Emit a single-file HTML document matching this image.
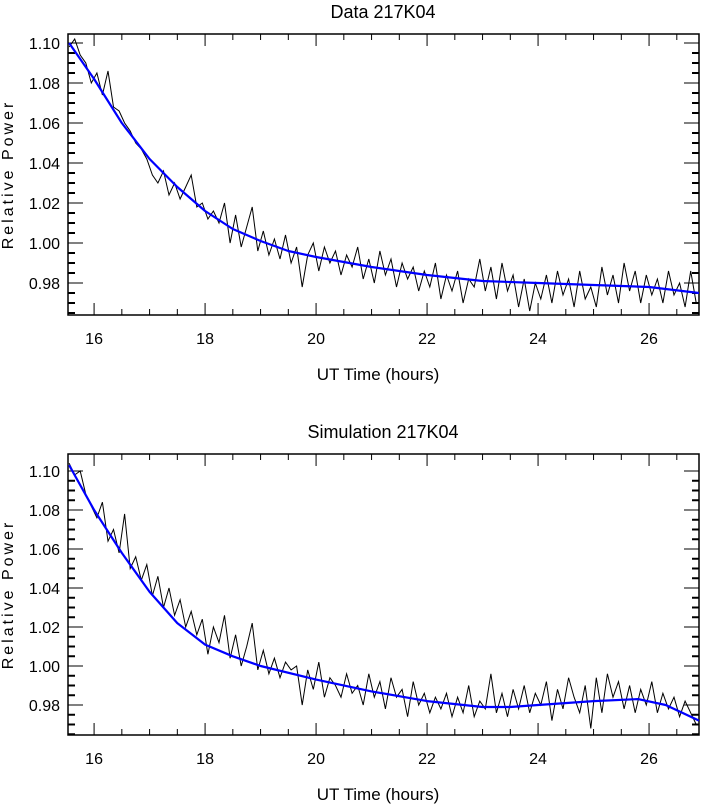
<!DOCTYPE html>
<html><head><meta charset="utf-8"><style>
body{margin:0;background:#fff;}
svg text{font-family:"Liberation Sans",sans-serif;fill:#000;}
</style></head><body>
<svg id="c" width="701" height="806" xmlns="http://www.w3.org/2000/svg"></svg>
<script>
const xTicks=[16,18,20,22,24,26];
const yTicks=[0.98,1.00,1.02,1.04,1.06,1.08,1.10];
const yTickLabels=["0.98","1.00","1.02","1.04","1.06","1.08","1.10"];
const titles=["Data 217K04","Simulation 217K04"];
const fitX1=[15.55,16,16.5,17,17.5,18,18.5,19,19.5,20,21,22,23,24,25,26,26.9];
const fitY1=[1.100,1.082,1.060,1.042,1.028,1.016,1.007,1.001,0.996,0.993,0.988,0.984,0.981,0.980,0.979,0.978,0.975];
const fitX2=[15.55,16,16.5,17,17.5,18,18.5,19,20,21,22,23,23.5,24,25,25.8,26.3,26.9];
const fitY2=[1.103,1.080,1.058,1.038,1.022,1.011,1.005,1.000,0.993,0.987,0.982,0.979,0.979,0.980,0.982,0.983,0.980,0.972];
const dataStart=15.55, dataStep=0.1;
const data1=[1.098,1.102,1.094,1.090,1.080,1.085,1.074,1.086,1.068,1.066,1.060,1.056,1.050,1.047,1.042,1.034,1.030,1.036,1.024,1.030,1.022,1.028,1.034,1.018,1.020,1.012,1.016,1.010,1.020,1.000,1.014,0.998,1.008,1.018,0.996,1.006,0.994,1.002,0.992,1.004,0.990,0.998,0.978,0.994,1.000,0.986,0.998,0.990,0.996,0.984,0.994,0.988,0.998,0.982,0.992,0.980,0.996,0.984,0.992,0.978,0.990,0.982,0.988,0.976,0.986,0.978,0.990,0.972,0.984,0.976,0.986,0.970,0.982,0.978,0.992,0.976,0.988,0.972,0.990,0.976,0.984,0.968,0.982,0.966,0.980,0.972,0.984,0.970,0.986,0.974,0.982,0.968,0.986,0.972,0.978,0.968,0.988,0.974,0.984,0.970,0.990,0.976,0.986,0.970,0.984,0.974,0.982,0.970,0.986,0.974,0.980,0.968,0.986,0.970];
const data2=[1.104,1.098,1.100,1.088,1.082,1.076,1.084,1.064,1.070,1.058,1.078,1.050,1.056,1.044,1.052,1.036,1.046,1.030,1.040,1.026,1.034,1.020,1.028,1.016,1.024,1.006,1.020,1.012,1.026,1.004,1.016,1.000,1.010,1.022,0.998,1.008,0.996,1.004,0.994,1.002,0.998,1.000,0.980,0.998,0.988,1.002,0.984,0.994,0.990,0.984,0.996,0.986,0.990,0.980,0.996,0.984,0.992,0.978,0.994,0.984,0.988,0.974,0.992,0.980,0.986,0.976,0.984,0.978,0.986,0.974,0.984,0.976,0.990,0.974,0.982,0.978,0.996,0.976,0.986,0.974,0.988,0.978,0.990,0.976,0.986,0.980,0.992,0.972,0.988,0.978,0.994,0.984,0.976,0.990,0.968,0.994,0.976,0.996,0.984,0.992,0.978,0.990,0.976,0.988,0.980,0.992,0.976,0.986,0.978,0.984,0.974,0.982,0.976,0.970];
const svg=document.getElementById('c');
const NS='http://www.w3.org/2000/svg';
function mk(tag,attrs,parent){const e=document.createElementNS(NS,tag);for(const k in attrs)e.setAttribute(k,attrs[k]);(parent||svg).appendChild(e);return e;}
const X0=15.53,X1=26.9,L=68,R=699;
function drawPanel(p,top,bottom,yRef,yPer,fitX,fitY,data){
  const g=mk('g',{});
  
  
  const sx=v=>L+(v-X0)/(X1-X0)*(R-L);
  const sy=v=>yRef-(v-0.98)*yPer;
  const t=mk('text',{x:383,y:top-16,'font-size':18,'text-anchor':'middle'},g);t.textContent=titles[p];
  
  
  const f=mk('rect',{x:L,y:top,width:R-L,height:bottom-top,fill:'none',stroke:'#000','stroke-width':1.5},g);
  
  
  for(let v=16;v<=26.5;v+=0.5){const x=sx(v);const major=(v%2===0);const len=major?12:6;
    mk('line',{x1:x,x2:x,y1:bottom,y2:bottom-len,stroke:'#000'},g);mk('line',{x1:x,x2:x,y1:top,y2:top+len,stroke:'#000'},g);}
  xTicks.forEach(v=>{const tx=mk('text',{x:sx(v),y:bottom+29,'font-size':16,'text-anchor':'middle'},g);tx.textContent=v;
    
    });
  for(let k=0;k<=27;k++){const v=0.965+k*0.005;const y=sy(v);if(y<top||y>bottom)continue;const major=(k%4===3);const len=major?15:7;
    mk('line',{x1:L,x2:L+len,y1:y,y2:y,stroke:'#000','stroke-width':major?1:2},g);mk('line',{x1:R,x2:R-len,y1:y,y2:y,stroke:'#000','stroke-width':major?1:2},g);}
  yTicks.forEach((v,i)=>{const ty=mk('text',{x:60,y:sy(v)+6,'font-size':16,'text-anchor':'end'},g);ty.textContent=yTickLabels[i];
    
    });
  const xl=mk('text',{x:378,y:bottom+65,'font-size':17,'text-anchor':'middle'},g);xl.textContent='UT Time (hours)';
  
  
  const yc=(top+bottom)/2;
  const yl=mk('text',{x:13,y:yc,'font-size':16,'text-anchor':'middle','letter-spacing':'3',transform:`rotate(-90 13 ${yc})`},g);yl.textContent='Relative Power';
  
  
  const clip=mk('clipPath',{id:'clip'+p},g);mk('rect',{x:L,y:top,width:R-L,height:bottom-top},clip);
  const pts=data.map((v,i)=>sx(dataStart+i*dataStep).toFixed(1)+','+sy(v).toFixed(1)).join(' ');
  const dl=mk('polyline',{points:pts,fill:'none',stroke:'#000','stroke-width':1,'clip-path':`url(#clip${p})`},g);
  
  
  const fp=fitX.map((v,i)=>sx(v).toFixed(1)+','+sy(fitY[i]).toFixed(1)).join(' ');
  const fl=mk('polyline',{points:fp,fill:'none',stroke:'#0000ff','stroke-width':2.2,'stroke-linejoin':'round','clip-path':`url(#clip${p})`},g);
  
  
}
drawPanel(0,34,315,283,2000,fitX1,fitY1,data1);
drawPanel(1,454,735,705,1950,fitX2,fitY2,data2);
</script>
</body></html>
